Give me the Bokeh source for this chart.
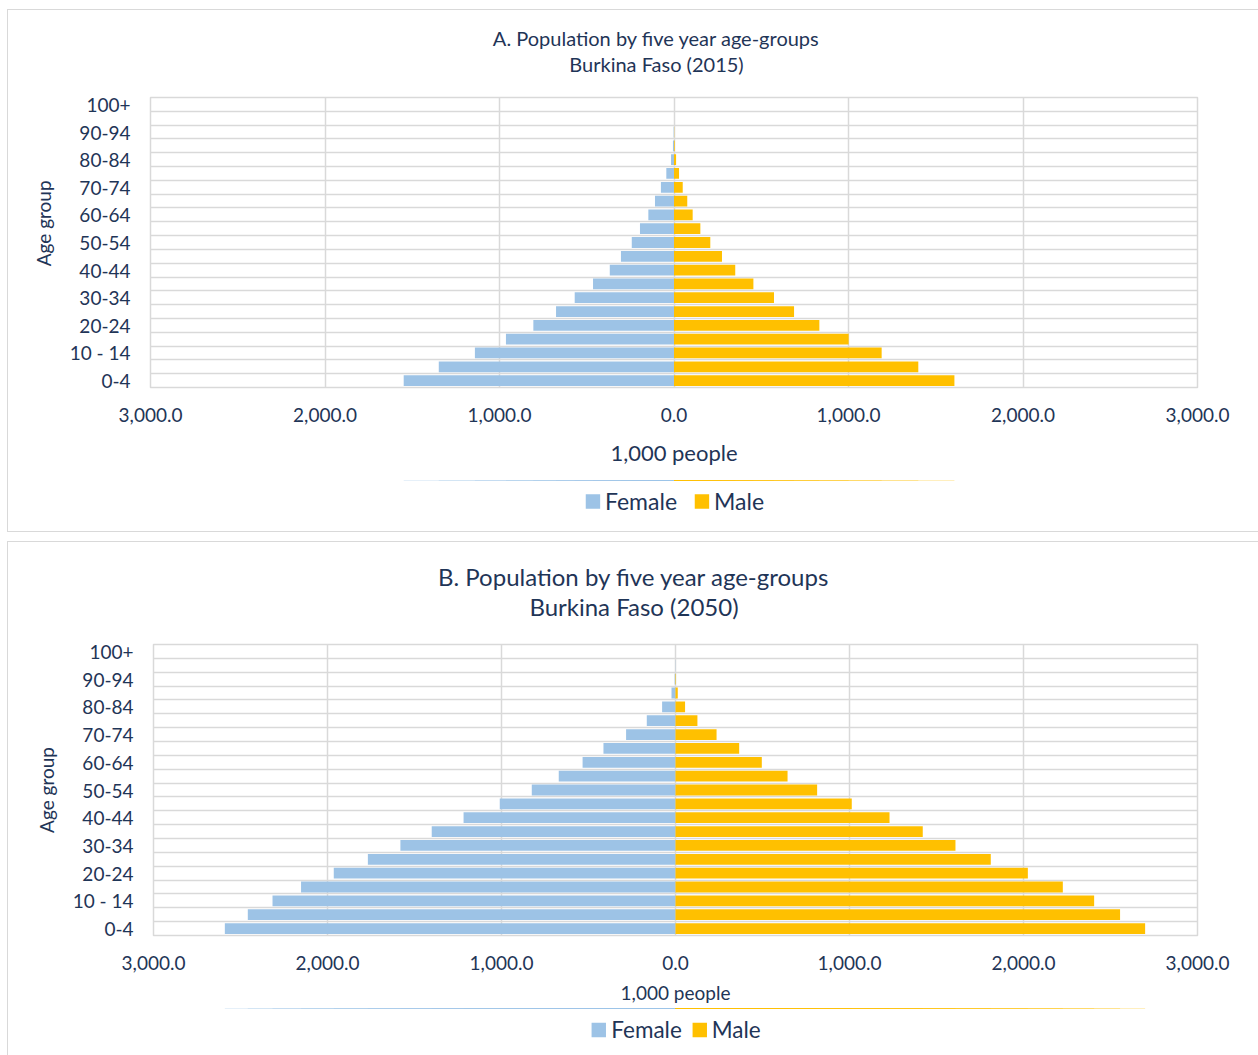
from bokeh.plotting import figure
from bokeh.models import (FixedTicker, CustomJSTickFormatter, Legend, LegendItem,
                          Title, Range1d, Label)
from bokeh.layouts import column
from bokeh.embed import file_html
from bokeh.resources import INLINE

age_groups = ["0-4", "5-9", "10 - 14", "15-19", "20-24", "25-29", "30-34", "35-39",
              "40-44", "45-49", "50-54", "55-59", "60-64", "65-69", "70-74", "75-79",
              "80-84", "85-89", "90-94", "95-99", "100+"]
shown_labels = ["0-4", "10 - 14", "20-24", "30-34", "40-44", "50-54", "60-64",
                "70-74", "80-84", "90-94", "100+"]

female_2015 = [1549, 1348, 1141, 963, 806, 676, 569, 464, 368, 304, 242, 195, 147,
               109, 75, 44, 17, 6, 2, 0, 0]
male_2015 = [1607, 1400, 1190, 1001, 833, 688, 573, 455, 351, 275, 208, 151, 107,
             76, 50, 29, 12, 4, 1, 0, 0]
female_2050 = [2590, 2458, 2316, 2152, 1964, 1768, 1581, 1401, 1218, 1010, 826, 671,
               534, 414, 284, 165, 77, 23, 5, 1, 0]
male_2050 = [2699, 2555, 2406, 2226, 2025, 1812, 1609, 1421, 1230, 1013, 814, 644,
             496, 366, 236, 126, 55, 13, 3, 0, 0]

x_ticks = [-3000, -2000, -1000, 0, 1000, 2000, 3000]

FONT = "Lato"
TXT = "#1f3557"
GRID = "#d9d9d9"
F_COL = "#9dc3e6"
M_COL = "#ffc000"


def add_bars(p, female, male):
    idx = list(range(len(age_groups)))
    neg_f = [-v for v in female]
    zeros = [0] * len(idx)
    rf = p.hbar(y=idx, left=neg_f, right=zeros, height=0.78,
                fill_color=F_COL, line_color=None)
    rm = p.hbar(y=idx, left=zeros, right=male, height=0.78,
                fill_color=M_COL, line_color=None)
    return rf, rm


def make_title(t1, t2, width, height, cx, y1, y2, size):
    tf = figure(width=width, height=height, min_border=0, min_border_left=0,
                min_border_right=0, min_border_top=0, min_border_bottom=0,
                x_range=Range1d(0, width), y_range=Range1d(0, height),
                x_axis_type=None, y_axis_type=None,
                output_backend="svg", toolbar_location=None, tools="")
    tf.outline_line_color = None
    tf.background_fill_color = "white"
    tf.border_fill_color = "white"
    tf.xgrid.visible = False
    tf.ygrid.visible = False
    for txt, yy in ((t1, y1), (t2, y2)):
        tf.add_layout(Label(x=cx, y=yy, x_units="canvas", text=txt,
                            text_align="center", text_baseline="middle",
                            text_font=FONT, text_font_size=f"{size}px",
                            text_color=TXT))
    return tf


def make_chart(female, male, width, height, fr_left, fr_top, bottom, right,
               tick_size, xlab_size, age_text, xlab_standoff, x_standoff):
    p = figure(width=width, height=height,
               min_border_left=fr_left, min_border_top=fr_top,
               min_border_bottom=bottom, min_border_right=right,
               x_range=Range1d(-3000, 3000), y_range=Range1d(-0.5, 20.5),
               output_backend="svg", toolbar_location=None, tools="")
    p.background_fill_color = "white"
    p.border_fill_color = "white"
    p.outline_line_color = GRID
    p.outline_line_width = 1.5

    add_bars(p, female, male)

    p.xgrid.ticker = FixedTicker(ticks=x_ticks)
    p.xgrid.grid_line_color = GRID
    p.xgrid.grid_line_width = 1.5
    p.ygrid.ticker = FixedTicker(ticks=[i - 0.5 for i in range(len(age_groups) + 1)])
    p.ygrid.grid_line_color = GRID
    p.ygrid.grid_line_width = 1.5

    xa = p.xaxis[0]
    xa.ticker = FixedTicker(ticks=x_ticks)
    xa.formatter = CustomJSTickFormatter(code="""
        return Math.abs(tick).toLocaleString('en-US', {minimumFractionDigits: 1, maximumFractionDigits: 1});
    """)
    xa.axis_line_color = None
    xa.major_tick_line_color = None
    xa.minor_tick_line_color = None
    xa.major_tick_out = 0
    xa.major_tick_in = 0
    xa.major_label_standoff = x_standoff
    xa.major_label_text_font = FONT
    xa.major_label_text_font_size = f"{tick_size}px"
    xa.major_label_text_color = TXT
    xa.axis_label = "1,000 people"
    xa.axis_label_text_font = FONT
    xa.axis_label_text_font_style = "normal"
    xa.axis_label_text_font_size = f"{xlab_size}px"
    xa.axis_label_text_color = TXT
    xa.axis_label_standoff = xlab_standoff

    ya = p.yaxis[0]
    ya.ticker = FixedTicker(ticks=[age_groups.index(s) for s in shown_labels])
    ya.major_label_overrides = {age_groups.index(s): s for s in shown_labels}
    ya.axis_line_color = None
    ya.major_tick_line_color = None
    ya.minor_tick_line_color = None
    ya.major_tick_out = 0
    ya.major_tick_in = 0
    ya.major_label_standoff = 20
    ya.major_label_text_font = FONT
    ya.major_label_text_font_size = f"{tick_size}px"
    ya.major_label_text_color = TXT

    age_title = Title(text=age_text, align="center",
                      text_font=FONT, text_font_size=f"{tick_size}px",
                      text_font_style="normal", text_color=TXT, standoff=24)
    p.add_layout(age_title, "left")
    return p


def make_legend(female, male, width, height, fr_left, right, bottom, leg_size,
                spacing):
    q = figure(width=width, height=height, min_border_left=fr_left,
               min_border_right=right, min_border_top=0, min_border_bottom=bottom,
               x_range=Range1d(-3000, 3000), y_range=Range1d(-101, -100),
               x_axis_type=None, y_axis_type=None,
               output_backend="svg", toolbar_location=None, tools="")
    q.outline_line_color = None
    q.background_fill_color = "white"
    q.border_fill_color = "white"
    q.xgrid.visible = False
    q.ygrid.visible = False
    # legend proxies for the same two series, kept outside the visible range
    rf, rm = add_bars(q, female, male)
    legend = Legend(items=[LegendItem(label="Female", renderers=[rf]),
                           LegendItem(label="Male", renderers=[rm])],
                    orientation="horizontal", location="center",
                    border_line_color=None, background_fill_alpha=0,
                    label_text_font=FONT, label_text_font_size=f"{leg_size}px",
                    label_text_color=TXT, glyph_width=18, glyph_height=18,
                    label_standoff=4, spacing=spacing, padding=0, margin=0)
    q.add_layout(legend, "center")
    return q


NB = "\u00a0"
BORDER = {"border": "1px solid #d9d9d9", "background-color": "white"}

t1 = make_title("A. Population by five year age-groups", "Burkina Faso (2015)",
                1250, 72, 648, 45, 19, 20)
p1 = make_chart(female_2015, male_2015, width=1250, height=398,
                fr_left=142, fr_top=15, bottom=93, right=61,
                tick_size=19, xlab_size=22, age_text=NB * 8 + "Age group",
                xlab_standoff=14, x_standoff=20)
l1 = make_legend(female_2015, male_2015, 1250, 51, 142, 61, 9, 23, 15)
panel1 = column(t1, p1, l1, spacing=0, styles=BORDER)
panel1.margin = (9, 0, 0, 7)

t2 = make_title("B. Population by five year age-groups", "Burkina Faso (2050)",
                1250, 85, 625.5, 51, 21, 24)
p2 = make_chart(female_2050, male_2050, width=1250, height=381,
                fr_left=145, fr_top=17, bottom=73, right=61,
                tick_size=19, xlab_size=19, age_text="Age group",
                xlab_standoff=8, x_standoff=20)
l2 = make_legend(female_2050, male_2050, 1250, 47, 145, 61, 5, 22.5, 8)
panel2 = column(t2, p2, l2, spacing=0, styles=BORDER)
panel2.margin = (9, 0, 0, 7)

layout = column(panel1, panel2, spacing=0)
layout.margin = 0

with open("out.html", "w") as f:
    f.write(file_html(layout, INLINE))
